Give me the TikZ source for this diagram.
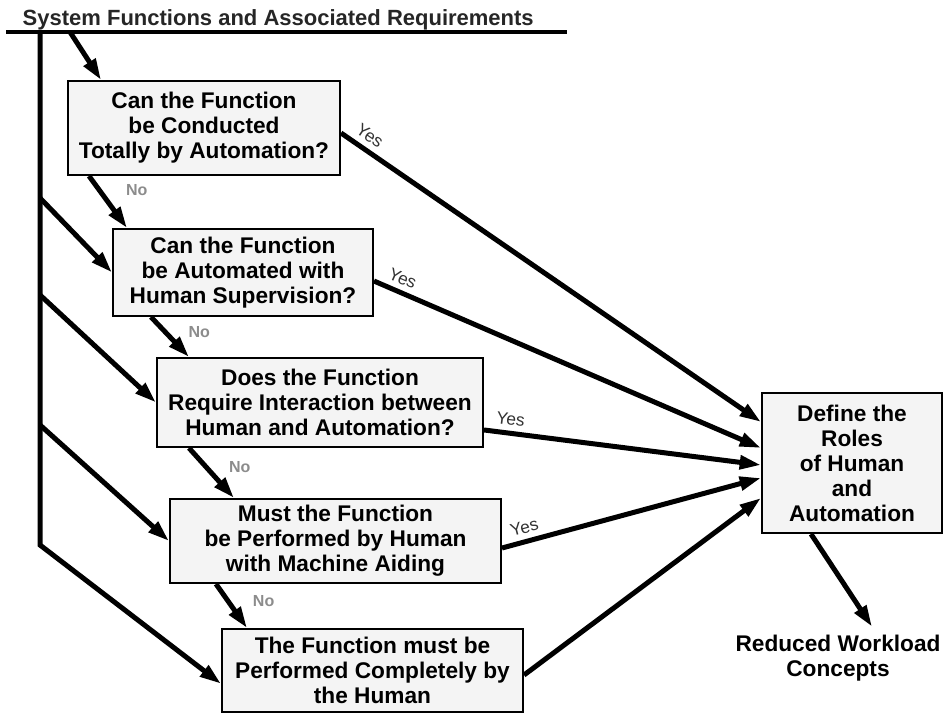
\documentclass[tikz,border=0pt]{standalone}
\usepackage{fontspec}
\setmainfont{Liberation Sans}
\usetikzlibrary{arrows.meta}
\tikzset{>/.tip={Triangle[length=16pt,width=10pt]}}
\definecolor{boxfill}{HTML}{F4F4F4}
\definecolor{nogray}{HTML}{8C8C8C}
\definecolor{yesgray}{HTML}{333333}
\newcommand\boxfont{\fontsize{17}{18.75}\selectfont\bfseries}

\begin{document}
\begin{tikzpicture}[x=0.75pt,y=-0.75pt,
    box/.style={draw,line width=1.5pt,fill=boxfill,align=center,inner sep=0pt,font=\boxfont},
    conn/.style={line width=3.75pt},
    yes/.style={font=\fontsize{13}{15}\selectfont,text=yesgray,sloped,above,inner sep=4pt},
    no/.style={font=\fontsize{12}{14}\selectfont\bfseries,text=nogray,anchor=west,inner sep=0pt}]
  \useasboundingbox (0,0) rectangle (945,720);
  \node (title)[anchor=base west,font=\fontsize{16.5}{18}\selectfont\bfseries,text=black!85] at (18,26)
    {System Functions and Associated Requirements};
  \node (q1)[box,minimum width=204pt,minimum height=70.5pt] at (204,128)
    {Can the Function\\be Conducted\\Totally by Automation?};
  \node (q2)[box,minimum width=195pt,minimum height=65.25pt] at (243,272.5)
    {Can the Function\\be Automated with\\Human Supervision?};
  \node (q3)[box,minimum width=244.5pt,minimum height=66.75pt] at (320,402.5)
    {Does the Function\\Require Interaction between\\Human and Automation?};
  \node (q4)[box,minimum width=248.25pt,minimum height=63pt] at (335.5,541)
    {Must the Function\\be Performed by Human\\with Machine Aiding};
  \node (q5)[box,minimum width=225.75pt,minimum height=62.25pt] at (372.5,670.5)
    {The Function must be\\Performed Completely by\\the Human};
  \node (roles)[box,minimum width=135pt,minimum height=105pt] at (852,463)
    {Define the\\Roles\\of Human\\and\\Automation};
  \node (wl)[font=\boxfont,align=center,inner sep=6pt] at (838,658)
    {Reduced Workload\\Concepts};

  % requirement bus
  \coordinate (ulL) at (6,32);
  \coordinate (ulR) at (567,32);
  \coordinate (feed) at (70,32);
  \coordinate (bus0) at (40,32);
  \coordinate (bus1) at (40,198);
  \coordinate (bus2) at (40,295);
  \coordinate (bus3) at (40,425);
  \coordinate (bus4) at (40,545);
  \draw[line width=3pt] (ulL) -- (ulR);
  \draw[conn,->] (bus0) -- (bus4) -- (q5.185);
  \draw[conn]
    (feed) edge[->] (q1.155)
    (bus1) edge[->] (q2.west)
    (bus2) edge[->] (q3.west)
    (bus3) edge[->] (q4.west);

  % no branches
  \draw[conn]
    ([xshift=16.5pt]q1.south west) edge[->] node[no,pos=0.28,xshift=18pt]{No} ([xshift=11.25pt]q2.north west)
    ([xshift=29.25pt]q2.south west) edge[->] node[no,pos=0.37,xshift=15.75pt]{No} ([xshift=24.75pt]q3.north west)
    ([xshift=24.75pt]q3.south west) edge[->] node[no,pos=0.39,xshift=15pt]{No} ([xshift=48.75pt]q4.north west)
    ([xshift=35.25pt]q4.south west) edge[->] node[no,pos=0.38,xshift=17pt]{No} ([xshift=19.5pt]q5.north west);

  % yes branches
  \draw[conn]
    ([yshift=-3.75pt]q1.east) edge[->] node[yes,pos=0.05]{Yes} ([yshift=30.75pt]roles.west)
    ([yshift=-6.4pt]q2.east) edge[->] node[yes,pos=0.06]{Yes} ([yshift=11.25pt]roles.west)
    ([yshift=-20.6pt]q3.east) edge[->] node[yes,pos=0.09]{Yes} ([yshift=-1.5pt]roles.west)
    ([yshift=-5.25pt]q4.east) edge[->] node[yes,pos=0.1]{Yes} ([yshift=-11.25pt]roles.west)
    ([yshift=-3.4pt]q5.east) edge[->] ([yshift=-26.25pt]roles.west)
    ([xshift=37.5pt]roles.south west) edge[->] ([xshift=25.5pt]wl.north);
\end{tikzpicture}
\end{document}
